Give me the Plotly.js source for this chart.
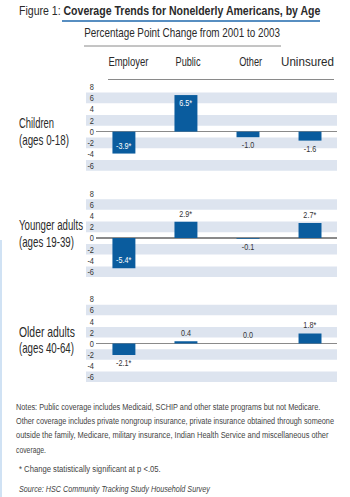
<!DOCTYPE html>
<html>
<head>
<meta charset="utf-8">
<script src="https://cdn.plot.ly/plotly-3.0.1.min.js"></script>
<style>html,body{margin:0;padding:0;background:#fff;}#chart{width:350px;height:497px;}</style>
</head>
<body>
<div id="chart"></div>
<script>
// ---- data ----
const categories = ['Employer', 'Public', 'Other', 'Uninsured'];
const groupNames = ['Children', 'Younger adults', 'Older adults'];
const groupAges = ['(ages 0-18)', '(ages 19-39)', '(ages 40-64)'];
const children = [-3.9, 6.5, -1.0, -1.6];
const youngerAdults = [-5.4, 2.9, -0.1, 2.7];
const olderAdults = [-2.1, 0.4, 0.0, 1.8];
const childrenSig = [true, true, false, false];
const youngerAdultsSig = [true, true, false, true];
const olderAdultsSig = [true, false, false, true];
const yTicks = [-6, -4, -2, 0, 2, 4, 6, 8];
const bandTicks = [6, 2, -2, -6];

const titleText = 'Figure 1: <b>Coverage Trends for Nonelderly Americans, by Age</b>';
const subtitleText = 'Percentage Point Change from 2001 to 2003';
const notesLines = [
  'Notes: Public coverage includes Medicaid, SCHIP and other state programs but not Medicare.',
  'Other coverage includes private nongroup insurance, private insurance obtained through someone',
  'outside the family, Medicare, military insurance, Indian Health Service and miscellaneous other',
  'coverage.'
];
const sigNote = '* Change statistically significant at p <.05.';
const sourceNote = '<i>Source: HSC Community Tracking Study Household Survey</i>';

// ---- layout constants ----
const W = 350, H = 497;
const FONT = '"Liberation Sans", Arial, sans-serif';
const BAR = '#0a5c9e';
const BAND = '#dde4ef';
const INK = '#2a2a2a';
const px = x => x / W;
const py = y => 1 - y / H;

const panels = [
  {vals: children, sig: childrenSig, top: 81, bottom: 171, labelY: [123, 140]},
  {vals: youngerAdults, sig: youngerAdultsSig, top: 187.7, bottom: 277.3, labelY: [225, 241.7]},
  {vals: olderAdults, sig: olderAdultsSig, top: 293.4, bottom: 382.3, labelY: [331.7, 348.3]}
];

const traces = [];
const layout = {
  width: W, height: H,
  margin: {l: 0, r: 0, t: 0, b: 0},
  paper_bgcolor: '#fff', plot_bgcolor: 'rgba(0,0,0,0)',
  showlegend: false,
  font: {family: FONT, color: INK, size: 10},
  bargap: 0.63,
  shapes: [], annotations: []
};

// the reference uses a condensed typeface: each annotation is squeezed horizontally to its width
const annFit = [];
function addText(xPx, yPx, text, size, anchor, widthPx, color) {
  layout.annotations.push({
    xref: 'paper', yref: 'paper', x: px(xPx), y: py(yPx),
    xanchor: anchor, yanchor: 'middle', align: anchor === 'left' ? 'left' : 'center',
    text: text, showarrow: false, borderpad: 0,
    font: {size: size, color: color || INK, family: FONT}
  });
  annFit.push({anchor: anchor, w: widthPx});
}

panels.forEach((p, i) => {
  const sfx = i === 0 ? '' : String(i + 1);
  const xa = 'x' + sfx, ya = 'y' + sfx;
  traces.push({
    type: 'bar', x: categories, y: p.vals, xaxis: xa, yaxis: ya,
    marker: {color: BAR, line: {width: 0}},
    text: p.vals.map((v, k) => v.toFixed(1) + (p.sig[k] ? '*' : '')),
    textposition: p.vals.map(v => Math.abs(v) > 3.5 ? 'inside' : 'outside'),
    insidetextanchor: 'end',
    textangle: 0,
    constraintext: 'none',
    cliponaxis: false,
    insidetextfont: {color: '#fff', size: 9, family: FONT},
    outsidetextfont: {color: '#333', size: 9, family: FONT},
    hoverinfo: 'skip'
  });
  layout['xaxis' + sfx] = {
    domain: [px(96), px(337)], anchor: ya, type: 'category',
    range: [-0.45, 3.435], visible: false, fixedrange: true
  };
  layout['yaxis' + sfx] = {
    domain: [py(p.bottom), py(p.top)], anchor: xa,
    range: [-7, 9], tickvals: yTicks, ticktext: yTicks.map(String),
    showgrid: false, showline: false, ticks: '',
    ticklabelstandoff: 1,
    zeroline: true, zerolinecolor: '#8a8a8a', zerolinewidth: 1.5,
    tickfont: {size: 9.5, color: '#333', family: FONT}, fixedrange: true
  };
  bandTicks.forEach(t => {
    layout.shapes.push({
      type: 'rect', xref: 'paper', yref: ya, layer: 'below',
      x0: px(86), x1: px(337), y0: t - 0.95, y1: t + 0.95,
      fillcolor: BAND, line: {width: 0}
    });
  });
});

// row labels
const rowLabelWidths = [[35, 50], [64, 55], [56, 55]];
panels.forEach((p, i) => {
  addText(18, p.labelY[0], groupNames[i], 14, 'left', rowLabelWidths[i][0]);
  addText(18, p.labelY[1], groupAges[i], 14, 'left', rowLabelWidths[i][1]);
});

// column headers
const headerX = [128, 188, 250, 307];
const headerW = [40, 25, 23, 53];
categories.forEach((c, k) => addText(headerX[k], 62, c, 12.5, 'center', headerW[k]));

// title & subtitle
addText(18, 11, titleText, 12.5, 'left', 302);
addText(182, 33, subtitleText, 12.5, 'center', 196);

// rules
layout.shapes.push({type: 'line', xref: 'paper', yref: 'paper', x0: px(62), x1: px(320), y0: py(21), y1: py(21), line: {color: '#1f69ad', width: 1.5}});
layout.shapes.push({type: 'line', xref: 'paper', yref: 'paper', x0: px(84), x1: px(281), y0: py(46), y1: py(46), line: {color: '#8a8a8a', width: 1}});
layout.shapes.push({type: 'line', xref: 'paper', yref: 'paper', x0: px(108), x1: px(334), y0: py(79.5), y1: py(79.5), line: {color: '#8a8a8a', width: 1}});
// faint left edge accent
layout.shapes.push({type: 'rect', xref: 'paper', yref: 'paper', x0: 0, x1: px(2), y0: 0, y1: py(240), fillcolor: 'rgba(150,190,230,0.45)', line: {width: 0}});

// notes
const NOTE = '#444';
const noteY = [406.7, 420.7, 434.7, 449];
const noteW = [305, 318, 313, 30];
notesLines.forEach((t, k) => addText(15, noteY[k], t, 9.5, 'left', noteW[k], NOTE));
addText(18, 468, sigNote, 9.5, 'left', 142, NOTE);
addText(18, 488, sourceNote, 9.5, 'left', 192, NOTE);

function condense() {
  document.querySelectorAll('#chart g.annotation').forEach(g => {
    const fit = annFit[+g.getAttribute('data-index')];
    const t = g.querySelector('text.annotation-text');
    if (!fit || !t) return;
    const r = t.getBoundingClientRect();
    if (!r.width) return;
    const f = fit.w / r.width;
    const ax = fit.anchor === 'left' ? r.left : r.left + r.width / 2;
    g.setAttribute('transform', `translate(${ax},0) scale(${f},1) translate(${-ax},0)`);
  });
  const squeeze = (sel, f) => document.querySelectorAll(sel).forEach(t => {
    const len = t.getComputedTextLength();
    if (len > 0) {
      t.setAttribute('textLength', (len * f).toFixed(2));
      t.setAttribute('lengthAdjust', 'spacingAndGlyphs');
    }
  });
  squeeze('#chart .yaxislayer-above text', 0.78);
  squeeze('#chart text.bartext', 0.8);
}

Plotly.newPlot('chart', traces, layout, {displayModeBar: false, staticPlot: true}).then(condense);
</script>
</body>
</html>
